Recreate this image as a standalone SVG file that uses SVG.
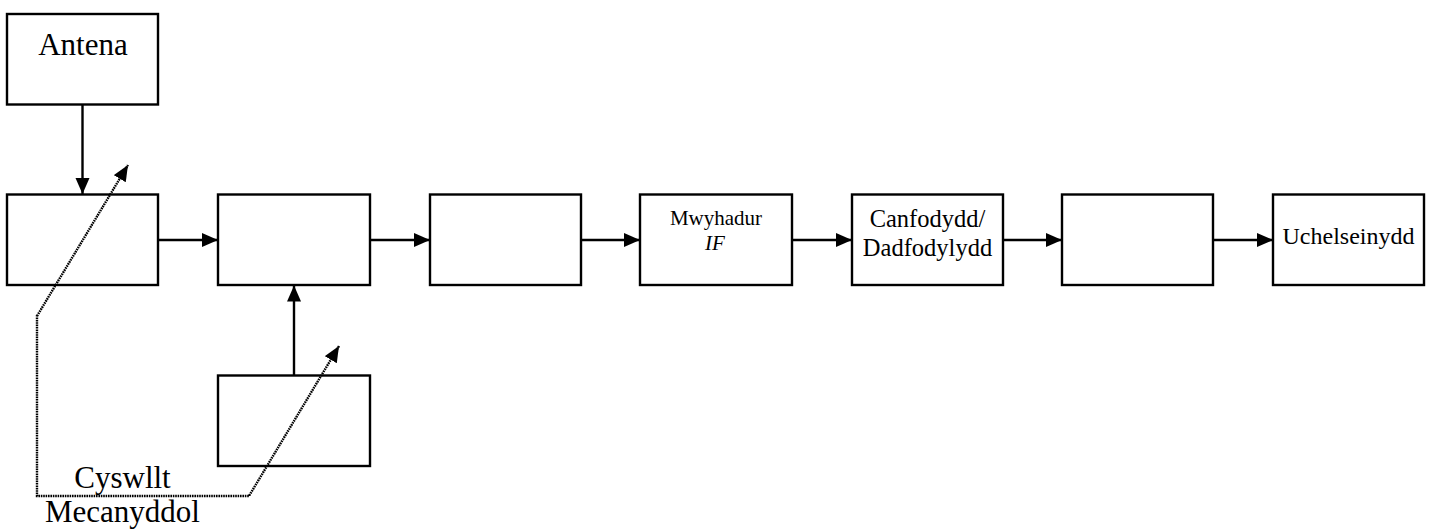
<svg xmlns="http://www.w3.org/2000/svg" width="1433" height="531" viewBox="0 0 1433 531">
  <style>
    .box { fill: #ffffff; stroke: #000000; stroke-width: 2.4; }
    .wire { fill: none; stroke: #000000; stroke-width: 2.4; }
    .link { fill: none; stroke: #000000; stroke-width: 2.4; stroke-dasharray: 1.6 0.8; }
    .lbl { font-family: "Liberation Serif", "Times New Roman", serif; fill: #000000; text-anchor: middle; }
  </style>
  <defs>
    <marker id="head" markerUnits="userSpaceOnUse" markerWidth="18" markerHeight="16" refX="16" refY="7" orient="auto">
      <path d="M0,0 L16,7 L0,14 Z" fill="#000000"/>
    </marker>
  </defs>

  <rect width="1433" height="531" fill="#ffffff"/>

  <!-- blocks -->
  <g id="antenna">
    <rect class="box" x="7" y="14" width="151" height="90.5"/>
    <text class="lbl" x="83" y="55" font-size="31">Antena</text>
  </g>
  <g id="rf-stage">
    <rect class="box" x="7" y="194.5" width="151" height="90.5"/>
  </g>
  <g id="mixer">
    <rect class="box" x="218" y="194.5" width="152" height="90.5"/>
  </g>
  <g id="oscillator">
    <rect class="box" x="218" y="375.5" width="152" height="90.5"/>
  </g>
  <g id="filter">
    <rect class="box" x="430" y="194.5" width="151" height="90.5"/>
  </g>
  <g id="if-amp">
    <rect class="box" x="640" y="194.5" width="152" height="90.5"/>
    <text class="lbl" x="716" y="225" font-size="21">Mwyhadur</text>
    <text class="lbl" x="715" y="250" font-size="21" font-style="italic">IF</text>
  </g>
  <g id="detector">
    <rect class="box" x="852" y="194.5" width="151" height="90.5"/>
    <text class="lbl" x="927.5" y="227" font-size="24.5">Canfodydd/</text>
    <text class="lbl" x="927.5" y="256" font-size="24.5">Dadfodylydd</text>
  </g>
  <g id="audio-amp">
    <rect class="box" x="1062" y="194.5" width="151" height="90.5"/>
  </g>
  <g id="speaker">
    <rect class="box" x="1273" y="194.5" width="151" height="90.5"/>
    <text class="lbl" x="1348.5" y="244" font-size="24">Uchelseinydd</text>
  </g>

  <!-- signal path -->
  <g id="connectors">
    <line class="wire" x1="82.5" y1="104.5" x2="82.5" y2="194" marker-end="url(#head)"/>
    <line class="wire" x1="158" y1="240" x2="218" y2="240" marker-end="url(#head)"/>
    <line class="wire" x1="370" y1="240" x2="430" y2="240" marker-end="url(#head)"/>
    <line class="wire" x1="581" y1="240" x2="640" y2="240" marker-end="url(#head)"/>
    <line class="wire" x1="792" y1="240" x2="852" y2="240" marker-end="url(#head)"/>
    <line class="wire" x1="1003" y1="240" x2="1062" y2="240" marker-end="url(#head)"/>
    <line class="wire" x1="1213" y1="240" x2="1273" y2="240" marker-end="url(#head)"/>
    <line class="wire" x1="294" y1="375.5" x2="294" y2="285.5" marker-end="url(#head)"/>
    <!-- ganged tuning link -->
    <path class="link" d="M37,315 L37,496 L249,496 L339,346" marker-end="url(#head)"/>
    <path class="link" d="M37,316 L128,165" marker-end="url(#head)"/>
  </g>

  <g id="link-label">
    <text class="lbl" x="122.5" y="488" font-size="31">Cyswllt</text>
    <text class="lbl" x="122.5" y="522" font-size="31">Mecanyddol</text>
  </g>
</svg>
